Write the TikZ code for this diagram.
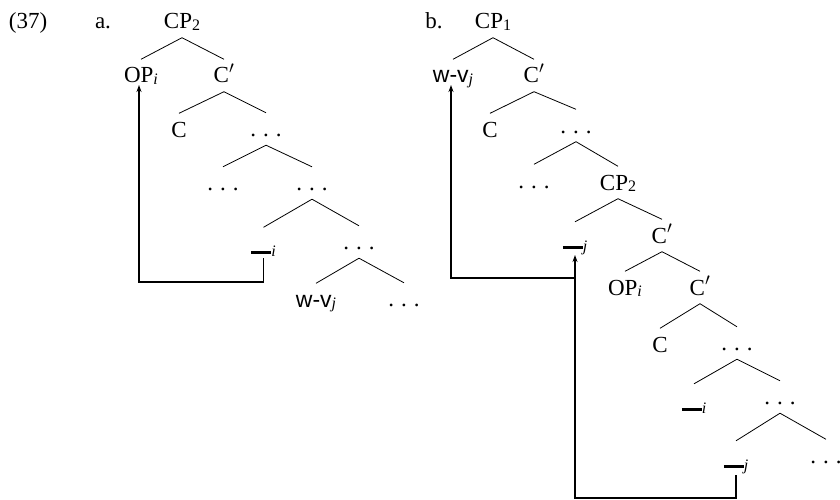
\documentclass[tikz,border=0pt]{standalone}
\usepackage{fontspec}
\setmainfont{Liberation Serif}
\setsansfont{Liberation Sans}
\usetikzlibrary{arrows.meta}
% wide-spaced ellipsis used for the elided constituents
\newcommand\dts{.\kern .3em.\kern .3em.}
% shallow subscript, as set by the tree labels
\newcommand\sbs[1]{\raisebox{-1.5pt}{\fontsize{16}{18}\selectfont #1}}
% trace: a thick bar just above the baseline with an italic index
\newcommand\trc[1]{\rule[1pt]{20pt}{2.8pt}\sbs{\itshape #1}}
\newcommand\wv{\textsf{w-v}\sbs{\itshape j}}
\begin{document}
\begin{tikzpicture}[x=1pt,y=-1pt,
  every node/.style={font=\fontsize{23}{27}\selectfont},
  lab/.style={anchor=base, text height=15pt, text depth=0pt,
              inner xsep=0pt, inner ysep=8.5pt},
  trace/.style={lab, text height=19pt},
  branch/.style={line width=0.8pt},
  mv/.style={line width=1.5pt, -{Stealth[length=7pt,width=5pt]}}]
\useasboundingbox (0,0) rectangle (840,500);

% example number and sub-labels
\node[anchor=base] (ex) at (28,29) {(37)};
\node[anchor=base] (la) at (103,29) {a.};
\node[anchor=base] (lb) at (434,29) {b.};

% tree (a)
\node[lab] (a0) at (182,29) {CP\sbs{2}};
\node[lab] (a1) at (141,83) {OP\sbs{\itshape i}};
\node[lab] (a2) at (224,83) {C$'$};
\node[lab] (a3) at (179,137) {C};
\node[lab] (a4) at (266,136.5) {\dts};
\node[lab] (a5) at (223,190.5) {\dts};
\node[lab] (a6) at (312,190.5) {\dts};
\node[trace] (a7) at (263.5,255) {\trc{i}};
\node[lab] (a8) at (359,249.5) {\dts};
\node[lab] (a9) at (316,307) {\wv};
\node[lab] (a10) at (404,306.5) {\dts};

\foreach \p/\c in {a0/a1,a0/a2,a2/a3,a2/a4,a4/a5,a4/a6,a6/a7,a6/a8,a8/a9,a8/a10}
  \draw[branch] (\p.south) -- (\c.north);

% tree (b)
\node[lab] (b0) at (493,29) {CP\sbs{1}};
\node[lab] (b1) at (453,83) {\wv};
\node[lab] (b2) at (534,83) {C$'$};
\node[lab] (b3) at (490,137) {C};
\node[lab] (b4) at (576,133) {\dts};
\node[lab] (b5) at (534,188) {\dts};
\node[lab] (b6) at (618,190) {CP\sbs{2}};
\node[trace] (b7) at (575,249.5) {\trc{j}};
\node[lab] (b8) at (662,243) {C$'$};
\node[lab] (b9) at (625,295) {OP\sbs{\itshape i}};
\node[lab] (b10) at (700,295) {C$'$};
\node[lab] (b11) at (660,352) {C};
\node[lab] (b12) at (737,350.5) {\dts};
\node[trace] (b13) at (694,411.5) {\trc{i}};
\node[lab] (b14) at (780,404.5) {\dts};
\node[trace] (b15) at (736,468.5) {\trc{j}};
\node[lab] (b16) at (826,463) {\dts};

\foreach \p/\c in {b0/b1,b0/b2,b2/b3,b2/b4,b4/b5,b4/b6,b6/b7,b6/b8,b8/b9,b8/b10,
                   b10/b11,b10/b12,b12/b13,b12/b14,b14/b15,b14/b16}
  \draw[branch] (\p.south) -- (\c.north);

% movement arrows
\coordinate (ya) at (0,282);
\coordinate (yb) at (0,498);
\coordinate (yc) at (0,278);
\draw[mv] ([yshift=-3pt]a7.base) -- (a7.base |- ya)
          -| ([xshift=-2pt,yshift=-2pt]a1.base);
\draw[mv] ([yshift=-6.5pt]b15.base) -- (b15.base |- yb)
          -| ([yshift=-5.5pt]b7.base);
\draw[mv] (b7.base |- yc) -| ([xshift=-2pt,yshift=-2pt]b1.base);
\end{tikzpicture}
\end{document}
